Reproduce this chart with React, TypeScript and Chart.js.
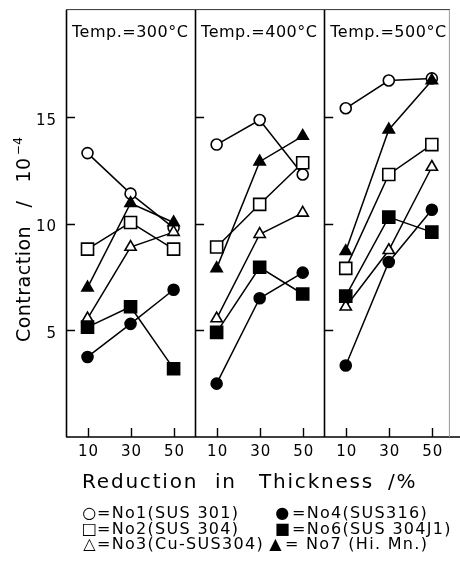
import React, { useEffect, useRef } from "react";
import { Chart, registerables } from "chart.js";

Chart.register(...registerables);

// ---- data ----
const reductions = [10, 30, 50];
const temperatures = ["300", "400", "500"];
const yTicks = [5, 10, 15];
const panelSpan = 60;

// values per temperature panel [300, 400, 500], each at reductions 10/30/50 %
const no1 = [[13.3, 11.4, 9.8], [13.7, 14.85, 12.3], [15.4, 16.7, 16.8]];
const no2 = [[8.8, 10.05, 8.8], [8.9, 10.9, 12.85], [7.9, 12.3, 13.7]];
const no3 = [[5.55, 8.9, 9.6], [5.55, 9.5, 10.5], [6.1, 8.75, 12.65]];
const no4 = [[3.75, 5.3, 6.9], [2.5, 6.5, 7.7], [3.35, 8.2, 10.65]];
const no6 = [[5.15, 6.1, 3.2], [4.9, 7.95, 6.7], [6.6, 10.3, 9.6]];
const no7 = [[7.0, 10.95, 10.05], [7.9, 12.9, 14.1], [8.7, 14.4, 16.7]];

const legendLeft = ["=No1(SUS 301)", "=No2(SUS 304)", "=No3(Cu-SUS304)"];
const legendRight = ["=No4(SUS316)", "=No6(SUS 304J1)", "= No7 (Hi. Mn.)"];
const legendLeftSym = ["○", "□", "△"];
const legendRightSym = ["●", "■", "▲"];

const FONT = '"DejaVu Sans", sans-serif';

function buildPoints(values: number[][]) {
  const pts: { x: number; y: number | null }[] = [];
  values.forEach((panel, p) => {
    panel.forEach((v, i) => pts.push({ x: reductions[i] + panelSpan * p, y: v }));
    if (p < values.length - 1) pts.push({ x: panelSpan * (p + 1), y: null });
  });
  return pts;
}

function ds(values: number[][], style: string, filled: boolean, radius: number, order: number) {
  return {
    data: buildPoints(values),
    borderColor: "#000",
    borderWidth: 1.5,
    pointStyle: style,
    pointRadius: radius,
    pointBorderWidth: 1.6,
    pointBorderColor: "#000",
    pointBackgroundColor: filled ? "#000" : "#fff",
    spanGaps: false,
    tension: 0,
    order,
  };
}

const decorPlugin = {
  id: "decor",
  beforeDatasetsDraw(chart: any) {
    const ctx = chart.ctx as CanvasRenderingContext2D;
    const xs = chart.scales.x;
    const ys = chart.scales.y;
    const a = chart.chartArea;
    ctx.save();
    ctx.strokeStyle = "#000";
    ctx.lineWidth = 1.6;
    ctx.beginPath();
    // panel left edges / dividers
    [0, panelSpan, panelSpan * 2].forEach((v) => {
      const px = Math.round(xs.getPixelForValue(v)) + 0.5;
      ctx.moveTo(px, a.top);
      ctx.lineTo(px, a.bottom);
    });
    // bottom axis
    ctx.moveTo(a.left, a.bottom);
    ctx.lineTo(chart.width, a.bottom);
    ctx.stroke();
    // x ticks
    ctx.lineWidth = 1.4;
    ctx.beginPath();
    temperatures.forEach((_, p) => {
      reductions.forEach((r) => {
        const px = Math.round(xs.getPixelForValue(r + panelSpan * p)) + 0.5;
        ctx.moveTo(px, a.bottom);
        ctx.lineTo(px, a.bottom - 9);
      });
    });
    // y ticks on each panel's left edge
    temperatures.forEach((_, p) => {
      const px = xs.getPixelForValue(panelSpan * p);
      yTicks.forEach((t) => {
        const py = Math.round(ys.getPixelForValue(t)) + 0.5;
        ctx.moveTo(px, py);
        ctx.lineTo(px + 9, py);
      });
    });
    ctx.stroke();
    // top line
    ctx.lineWidth = 1;
    ctx.strokeStyle = "#333";
    ctx.beginPath();
    ctx.moveTo(a.left, a.top - 0.5);
    ctx.lineTo(a.right, a.top - 0.5);
    ctx.stroke();
    // right edge (faint)
    ctx.strokeStyle = "#999";
    ctx.beginPath();
    ctx.moveTo(a.right - 0.5, a.top);
    ctx.lineTo(a.right - 0.5, a.bottom);
    ctx.stroke();
    ctx.restore();
  },
  afterDraw(chart: any) {
    const ctx = chart.ctx as CanvasRenderingContext2D;
    const xs = chart.scales.x;
    const ys = chart.scales.y;
    const a = chart.chartArea;
    ctx.save();
    ctx.fillStyle = "#000";

    // panel temperature labels
    ctx.font = `16px ${FONT}`;
    ctx.textAlign = "left";
    ctx.textBaseline = "alphabetic";
    (ctx as any).letterSpacing = "0.5px";
    temperatures.forEach((t, p) => {
      const px = xs.getPixelForValue(panelSpan * p);
      ctx.fillText(`Temp.=${t}°C`, px + 6, a.top + 27);
    });

    // x tick labels
    ctx.font = `15px ${FONT}`;
    ctx.textAlign = "center";
    (ctx as any).letterSpacing = "1px";
    temperatures.forEach((_, p) => {
      reductions.forEach((r) => {
        const px = xs.getPixelForValue(r + panelSpan * p);
        ctx.fillText(String(r), px + 1, a.bottom + 19);
      });
    });

    // y tick labels
    ctx.textAlign = "right";
    ctx.textBaseline = "middle";
    yTicks.forEach((t) => {
      ctx.fillText(String(t), a.left - 9, ys.getPixelForValue(t) + 4);
    });
    (ctx as any).letterSpacing = "0px";

    // y title (rotated)
    ctx.save();
    ctx.translate(25, 0);
    ctx.rotate(-Math.PI / 2);
    ctx.textBaseline = "middle";
    ctx.textAlign = "center";
    ctx.font = `19px ${FONT}`;
    (ctx as any).letterSpacing = "0.5px";
    ctx.fillText("Contraction", -284, 0);
    ctx.fillText("/", -204, 0);
    ctx.fillText("10", -170, 0);
    ctx.font = `12px ${FONT}`;
    ctx.fillText("−4", -146, -6);
    ctx.restore();

    // x title
    ctx.font = `20px ${FONT}`;
    ctx.textAlign = "left";
    ctx.textBaseline = "alphabetic";
    (ctx as any).letterSpacing = "1.8px";
    ctx.fillText("Reduction", 82, 488);
    ctx.fillText("in", 215, 488);
    ctx.fillText("Thickness", 259, 488);
    ctx.fillText("/%", 388, 488);
    (ctx as any).letterSpacing = "0px";

    // legend
    ctx.font = `16px ${FONT}`;
    (ctx as any).letterSpacing = "1.3px";
    const rows = [518, 533.5, 549];
    const rightSymX = [283, 283, 276];
    const rightTextX = [292, 292, 285];
    rows.forEach((y, i) => {
      ctx.textAlign = "center";
      ctx.fillText(legendLeftSym[i], 90, y);
      ctx.fillText(legendRightSym[i], rightSymX[i], y);
      ctx.textAlign = "left";
      ctx.fillText(legendLeft[i], 97, y);
      ctx.fillText(legendRight[i], rightTextX[i], y);
    });
    ctx.restore();
  },
};

export default function App() {
  const ref = useRef<HTMLCanvasElement | null>(null);
  useEffect(() => {
    if (!ref.current) return;
    const chart = new Chart(ref.current, {
      type: "line",
      data: {
        datasets: [
          ds(no7, "triangle", true, 6.5, 0),
          ds(no6, "rect", true, 8.5, 0),
          ds(no4, "circle", true, 5.5, 0),
          ds(no3, "triangle", false, 6.5, 1),
          ds(no2, "rect", false, 8.5, 1),
          ds(no1, "circle", false, 5.5, 1),
        ] as any,
      },
      options: {
        animation: false,
        responsive: false,
        devicePixelRatio: 1,
        layout: { padding: { left: 66, top: 10, right: 1, bottom: 137 } },
        plugins: { legend: { display: false }, tooltip: { enabled: false } },
        scales: {
          x: { type: "linear", min: 0, max: 178.4, display: false },
          y: { type: "linear", min: 0, max: 20, display: false },
        },
      },
      plugins: [decorPlugin],
    });
    return () => chart.destroy();
  }, []);
  return (
    <canvas
      ref={ref}
      width={460}
      height={574}
      style={{ position: "fixed", left: 0, top: 0, width: 460, height: 574, background: "#fff" }}
    />
  );
}
